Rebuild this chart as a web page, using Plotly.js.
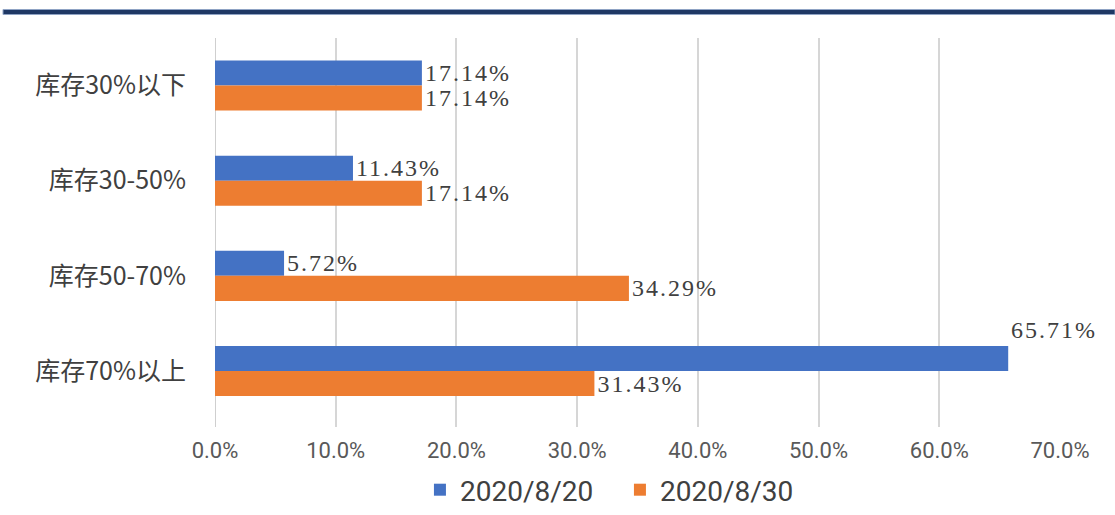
<!DOCTYPE html>
<html>
<head>
<meta charset="utf-8">
<script src="https://cdn.plot.ly/plotly-3.0.1.min.js"></script>
<style>
body{margin:0;background:#fff;}
#chart{width:1115px;height:515px;}
.bartext, .annotation-text{letter-spacing:2px;}
</style>
</head>
<body>
<div id="chart"></div>
<script>
const categories = ['库存30%以下', '库存30-50%', '库存50-70%', '库存70%以上'];
const seriesNames = ['2020/8/20', '2020/8/30'];
const values0820 = [17.14, 11.43, 5.72, 65.71];
const values0830 = [17.14, 17.14, 34.29, 31.43];
const xTickVals = [0, 10, 20, 30, 40, 50, 60, 70];
const xTickText = ['0.0%', '10.0%', '20.0%', '30.0%', '40.0%', '50.0%', '60.0%', '70.0%'];

const labelFont = {family: 'Liberation Serif, DejaVu Serif, serif', size: 24, color: '#404040'};
const narrow = 'Liberation Sans Narrow, Roboto, sans-serif';

const blueTextPos = values0820.map((v, i) => i === values0820.length - 1 ? 'none' : 'outside');

const traces = [
  {
    type: 'bar', orientation: 'h', name: seriesNames[0],
    y: categories, x: values0820,
    marker: {color: '#4472C4'},
    texttemplate: '%{x:.2f}%', textposition: blueTextPos, constraintext: 'none',
    textfont: labelFont, cliponaxis: false, hoverinfo: 'none'
  },
  {
    type: 'bar', orientation: 'h', name: seriesNames[1],
    y: categories, x: values0830,
    marker: {color: '#ED7D31'},
    texttemplate: '%{x:.2f}%', textposition: 'outside', constraintext: 'none',
    textfont: labelFont, cliponaxis: false, hoverinfo: 'none'
  }
];

const last = values0820.length - 1;
const layout = {
  width: 1115, height: 515,
  margin: {l: 215, r: 55, t: 38, b: 88, autoexpand: false},
  paper_bgcolor: '#ffffff', plot_bgcolor: '#ffffff',
  barmode: 'group', bargap: 0.474, bargroupgap: 0,
  showlegend: true,
  legend: {
    orientation: 'h', xref: 'container', yref: 'container',
    x: 0.556, xanchor: 'center', y: (515 - 490) / 515, yanchor: 'middle',
    font: {family: narrow, size: 28, color: '#404040'},
    entrywidth: 155, traceorder: 'normal'
  },
  xaxis: {
    range: [0, 70], tickvals: xTickVals, ticktext: xTickText,
    showgrid: true, gridcolor: '#d6d6d6', gridwidth: 2,
    zeroline: false, showline: false, ticks: '',
    ticklabelstandoff: 8,
    tickfont: {family: narrow, size: 22, color: '#595959'},
    fixedrange: true
  },
  yaxis: {
    type: 'category', categoryorder: 'array', categoryarray: categories,
    autorange: 'reversed',
    showgrid: false, zeroline: false, showline: false, ticks: '',
    ticklabelstandoff: 28,
    tickfont: {family: 'Noto Sans CJK SC, Noto Sans, sans-serif', size: 25, color: '#404040'},
    fixedrange: true
  },
  shapes: [
    {type: 'line', xref: 'x', yref: 'paper', x0: 0, x1: 0, y0: 0, y1: 1,
     line: {color: '#cfcfcf', width: 2}, layer: 'below'},
    {type: 'rect', xref: 'paper', yref: 'paper',
     x0: (3 - 215) / 845, x1: (1115 - 215) / 845,
     y0: (427 - 14.5) / 389, y1: (427 - 9.5) / 389,
     fillcolor: '#1F3864', line: {color: '#8FA3C4', width: 1}}
  ],
  annotations: [
    {xref: 'x', yref: 'y', x: values0820[last], y: categories[last],
     text: values0820[last].toFixed(2) + '%', showarrow: false,
     xanchor: 'left', yanchor: 'bottom', xshift: 1, yshift: 26,
     font: labelFont}
  ]
};

Plotly.newPlot('chart', traces, layout, {displayModeBar: false, staticPlot: true});
</script>
</body>
</html>
